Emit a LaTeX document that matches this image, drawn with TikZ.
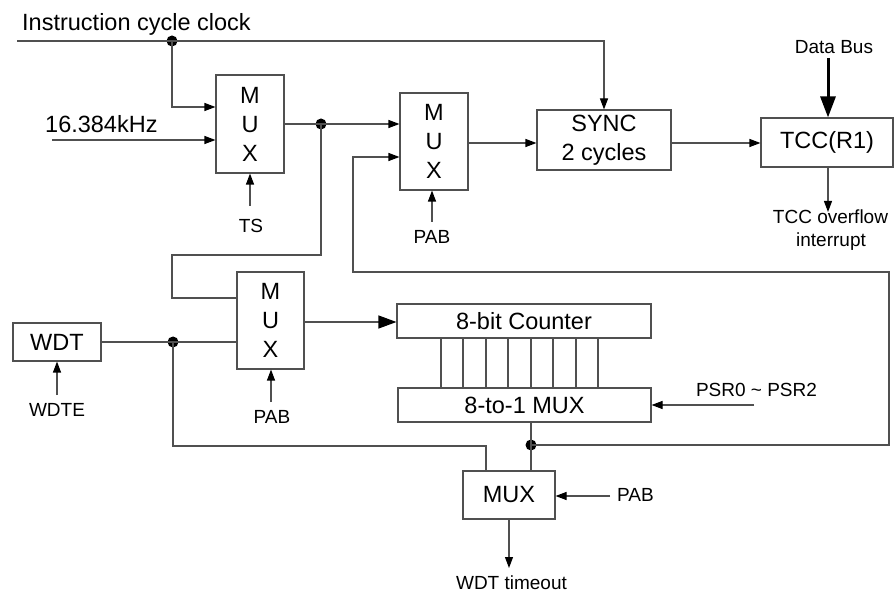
\documentclass[tikz,border=0pt]{standalone}
\usepackage{fontspec}
\setmainfont{Liberation Sans}
\usetikzlibrary{arrows.meta}
\newcommand\fbig{\fontsize{23.5}{29}\selectfont}
\newcommand\fsmall{\fontsize{19}{22.7}\selectfont}
\definecolor{ln}{RGB}{80,80,80}
\tikzset{
  wire/.style={draw=ln, line width=1.1pt},
  arr/.style={wire, -{Triangle[length=11pt,width=8pt,color=black]}},
  bigarr/.style={wire, -{Triangle[length=18pt,width=13pt,color=black]}},
  busarr/.style={draw=black, line width=3pt, -{Triangle[length=21pt,width=15pt]}},
  blk/.style={draw=ln, line width=1.1pt, inner sep=0pt, align=center, font=\fbig},
  lbl/.style={inner sep=0pt, font=\fsmall, anchor=base},
  jdot/.style={circle, fill=black, inner sep=0pt, minimum size=11pt},
}
\begin{document}
\begin{tikzpicture}[x=1pt,y=-1pt]
\useasboundingbox (0,0) rectangle (894,593);
% blocks
\node[blk, minimum width=68pt, minimum height=98pt] (mux1) at (250,124) {M\\U\\X};
\node[blk, minimum width=68pt, minimum height=97pt] (mux2) at (434,141.5) {M\\U\\X};
\node[blk, minimum width=134pt, minimum height=60pt] (sync) at (604,140) {SYNC\\2 cycles};
\node[blk, minimum width=132pt, minimum height=49pt] (tcc) at (827,142.5) {TCC(R1)};
\node[blk, minimum width=67pt, minimum height=97pt] (mux3) at (270.5,320.5) {M\\U\\X};
\node[blk, minimum width=88pt, minimum height=38pt] (wdt) at (57,342) {WDT};
\node[blk, minimum width=254pt, minimum height=34pt] (cnt) at (524,321) {8-bit Counter};
\node[blk, minimum width=253pt, minimum height=34pt] (sel) at (524.5,405) {8-to-1 MUX};
\node[blk, minimum width=92pt, minimum height=48pt] (mux4) at (509,495) {MUX};
% labels
\node[inner sep=0pt, anchor=base west, font=\fbig] (iclk) at (22,30.7) {Instruction cycle clock};
\node[inner sep=0pt, anchor=base west, font=\fbig] (khz) at (45,132.3) {16.384kHz};
\node[lbl] (ts) at (251,232.3) {TS};
\node[lbl] (pab2) at (432,243.3) {PAB};
\node[lbl] (dbus) at (834,53.3) {Data Bus};
\node[lbl] (ovf1) at (830.5,224) {TCC overflow};
\node[lbl] (ovf2) at (831,246.7) {interrupt};
\node[lbl] (wdte) at (57,416.7) {WDTE};
\node[lbl] (pab3) at (272,423.3) {PAB};
\node[lbl] (psr) at (756.5,396) {PSR0 \textasciitilde\ PSR2};
\node[lbl] (pab4) at (635.5,501.7) {PAB};
\node[lbl] (wto) at (511.5,589.5) {WDT timeout};
% junctions
\node[jdot] (j1) at (172,41) {};
\node[jdot] (j2) at (321,124) {};
\node[jdot] (j3) at (173,342) {};
\node[jdot] (j4) at (531,445) {};
% free ends
\coordinate (clkL) at (17,41);
\coordinate (khzL) at (52,140);
\coordinate (tsA) at (250,206);
\coordinate (pab2A) at (432,222);
\coordinate (dbA) at (828,58);
\coordinate (ovfA) at (828,212);
\coordinate (wdteA) at (57,395);
\coordinate (pab3A) at (271,402);
\coordinate (psrA) at (754,405);
\coordinate (pab4A) at (610,496);
\coordinate (wtoA) at (509,568);
\coordinate (fbR) at (889,445);
\coordinate (fbL) at (353,272);
% wires
\draw[arr] (clkL) -- (j1.center) -| (sync.north);
\draw[arr] (j1.center) |- (mux1.west |- 0,107);
\draw[arr] (khzL) -- (mux1.west |- khzL);
\draw[arr] (tsA) -- (mux1.south);
\draw[arr] (mux1.east) -- (j2.center) -- (mux2.west |- j2);
\draw[wire] (j2.center) -- (321,255) -| (172,298) -- (mux3.west |- 0,298);
\draw[arr] (j4.center) -- (fbR) |- (fbL) |- (mux2.west |- 0,157);
\draw[arr] (pab2A) -- (pab2A |- mux2.south);
\draw[arr] (mux2.east |- 0,143) -- (sync.west |- 0,143);
\draw[arr] (sync.east |- 0,143) -- (tcc.west |- 0,143);
\draw[busarr] (dbA) -- (dbA |- tcc.north);
\draw[arr] (ovfA |- tcc.south) -- (ovfA);
\draw[wire] (wdt.east) -- (j3.center) -- (mux3.west |- j3);
\draw[wire] (j3.center) |- (486,446) -- (486,0 |- mux4.north);
\draw[arr] (wdteA) -- (wdt.south);
\draw[arr] (pab3A) -- (pab3A |- mux3.south);
\draw[bigarr] (mux3.east |- 0,322) -- (cnt.west |- 0,322);
\foreach \x in {441,463,486,508,531,553,576,598}
  \draw[wire] (\x,0 |- cnt.south) -- (\x,0 |- sel.north);
\draw[arr] (psrA) -- (sel.east |- psrA);
\draw[wire] (j4 |- sel.south) -- (j4.center) -- (j4 |- mux4.north);
\draw[arr] (pab4A) -- (mux4.east |- pab4A);
\draw[arr] (mux4.south) -- (wtoA);
\end{tikzpicture}
\end{document}
